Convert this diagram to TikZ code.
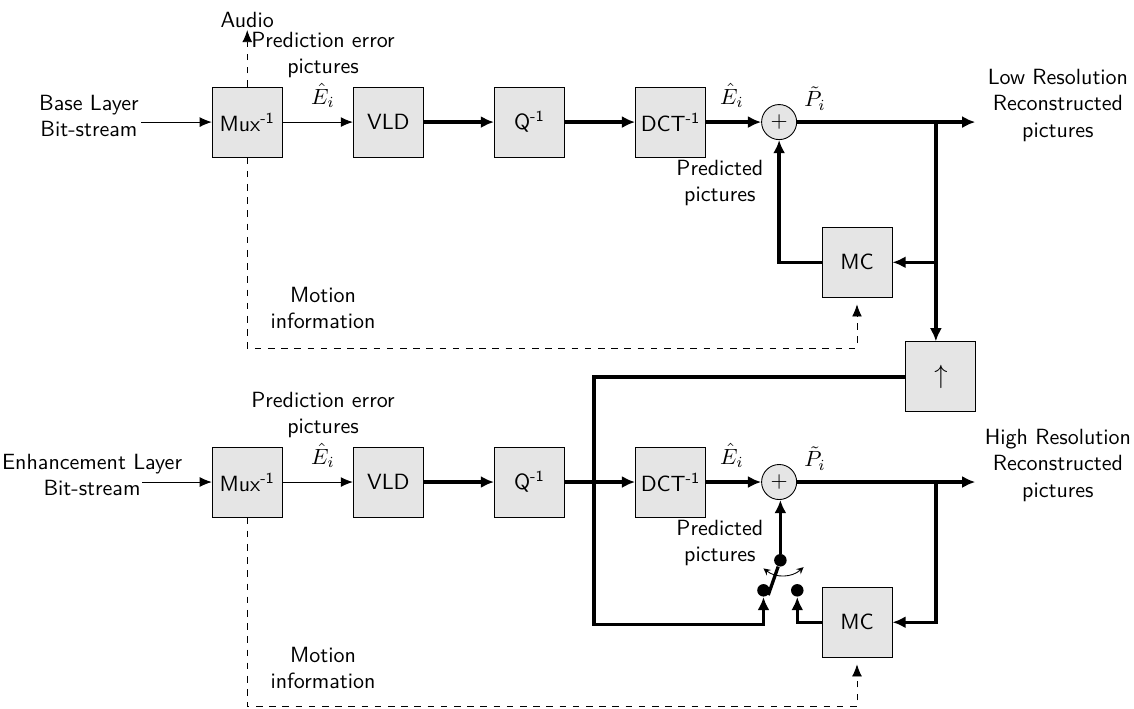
\documentclass[tikz,border=0pt]{standalone}
\usepackage{tikz}
\usetikzlibrary{positioning}
\usetikzlibrary{calc}
\usetikzlibrary{arrows,arrows.meta}
\usepackage{amsmath, amssymb}

\begin{document}
\begin{tikzpicture}[font=\sffamily,
  blk/.style={draw, fill=black!10, minimum size=1.12cm, inner sep=0pt},
  sumnode/.style={draw, circle, fill=black!10, minimum size=0.56cm, inner sep=0pt},
  lbl/.style={align=center, inner sep=1pt},
  dot/.style={circle, fill, minimum size=0.2cm, inner sep=0pt},
  thin/.style={-{Latex[length=5.5pt,width=4.5pt]}},
  bus/.style={line width=1.5pt, -{Latex[length=6pt,width=5.5pt]}},
  node distance=1.12cm]
  \useasboundingbox (0,0) rectangle (18.115,-11.31);

  % base layer
  \node[blk] (mux1) at (3.95,-1.95) {Mux\textsuperscript{-1}};
  \node[blk,right=of mux1] (vld1) {VLD};
  \node[blk,right=of vld1] (iq1) {Q\textsuperscript{-1}};
  \node[blk,right=of iq1] (idct1) {DCT\textsuperscript{-1}};
  \node[sumnode,right=0.88cm of idct1] (sum1) {$+$};
  \node[blk] (mc1) at (13.69,-4.19) {MC};
  \node[blk] (up) at (15.03,-6.02) {\large$\uparrow$};

  \node[lbl] (in1) at (1.42,-1.85) {Base Layer\\Bit-stream};
  \coordinate (aud) at (3.95,-0.48);
  \node[lbl,above=0pt of aud] (audio) {Audio};
  \node[lbl] (pe1) at (5.16,-0.88) {Prediction error\\pictures};
  \node[lbl] (eh1) at (5.16,-1.53) {$\hat{E}_i$};
  \node[lbl] (eh1b) at (11.69,-1.53) {$\hat{E}_i$};
  \node[lbl] (pt1) at (13.02,-1.57) {$\tilde{P}_i$};
  \node[lbl] (pred1) at (11.50,-2.92) {Predicted\\pictures};
  \node[lbl] (lowres) at (16.90,-1.68) {Low Resolution\\Reconstructed\\pictures};
  \node[lbl] (mot1) at (5.16,-4.92) {Motion\\information};

  \coordinate (br1) at (14.95,-1.95);
  \coordinate (out1) at (15.58,-1.95);
  \coordinate (mo1) at (3.95,-5.56);

  \draw[thin] (in1.east |- mux1) -- (mux1);
  \draw[thin] (mux1) -- (vld1);
  \draw[bus] (vld1) -- (iq1);
  \draw[bus] (iq1) -- (idct1);
  \draw[bus] (idct1) -- (sum1);
  \draw[bus] (sum1) -- (out1);
  \draw[bus] (br1) |- (mc1.east);
  \draw[bus] (br1) -- (br1 |- up.north);
  \draw[bus] (mc1.west) -| (sum1.south);
  \draw[dashed,thin] (mux1.north) -- (aud);
  \draw[dashed,thin] (mux1.south) -- (mo1) -| ([yshift=-3pt]mc1.south);

  % enhancement layer
  \node[blk] (mux2) at (3.95,-7.70) {Mux\textsuperscript{-1}};
  \node[blk,right=of mux2] (vld2) {VLD};
  \node[blk,right=of vld2] (iq2) {Q\textsuperscript{-1}};
  \node[blk,right=of iq2] (idct2) {DCT\textsuperscript{-1}};
  \node[sumnode,right=0.88cm of idct2] (sum2) {$+$};
  \node[blk] (mc2) at (13.69,-9.94) {MC};

  \node[lbl] (in2) at (1.47,-7.59) {Enhancement Layer\\Bit-stream};
  \node[lbl] (pe2) at (5.16,-6.63) {Prediction error\\pictures};
  \node[lbl] (eh2) at (5.16,-7.28) {$\hat{E}_i$};
  \node[lbl] (eh2b) at (11.69,-7.28) {$\hat{E}_i$};
  \node[lbl] (pt2) at (13.02,-7.32) {$\tilde{P}_i$};
  \node[lbl] (pred2) at (11.50,-8.67) {Predicted\\pictures};
  \node[lbl] (highres) at (16.90,-7.43) {High Resolution\\Reconstructed\\pictures};
  \node[lbl] (mot2) at (5.16,-10.67) {Motion\\information};

  % switch
  \node[dot] (piv) at ($(sum2)+(0.02,-1.25)$) {};
  \node[dot] (swL) at ($(sum2)+(-0.25,-1.73)$) {};
  \node[dot] (swR) at ($(sum2)+(0.29,-1.73)$) {};
  \coordinate (swA) at ($(piv)+(-0.27,-0.13)$);
  \coordinate (swB) at ($(piv)+(0.37,-0.11)$);

  \coordinate (in2e) at (2.27,-7.70);
  \coordinate (br2) at (14.95,-7.70);
  \coordinate (out2) at (15.58,-7.70);
  \coordinate (lp) at (9.49,-9.98);
  \coordinate (mo2) at (3.95,-11.29);

  \draw[thin] (in2e) -- (mux2);
  \draw[thin] (mux2) -- (vld2);
  \draw[bus] (vld2) -- (iq2);
  \draw[bus] (iq2) -- (idct2);
  \draw[bus] (idct2) -- (sum2);
  \draw[bus] (sum2) -- (out2);
  \draw[bus] (br2) |- (mc2.east);
  \draw[bus] (mc2.west) -| (swR.south);
  \draw[bus] (up.west) -| (lp) -| (swL.south);
  \draw[line width=1.5pt] (piv) -- (swL.south east);
  \draw[bus] (piv) -- (piv |- sum2.south);
  \draw[<->,>=stealth] (swA) to[bend right=40] (swB);
  \draw[dashed,thin] (mux2.south) -- (mo2) -| ([yshift=-3pt]mc2.south);
\end{tikzpicture}
\end{document}
